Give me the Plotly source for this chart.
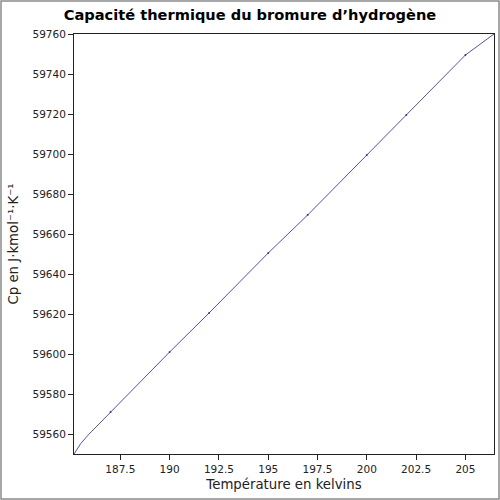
import plotly.graph_objects as go

temperature_k = [185.15, 185.5, 185.85, 187, 190, 192, 195, 197, 200, 202, 205, 206.45]
cp_values = [59550, 59555.3, 59559.3, 59571, 59601, 59620.5, 59650.5, 59669.5,
             59699.5, 59719.5, 59749.5, 59760]
marked_temperatures = [187, 190, 192, 195, 197, 200, 202, 205]
x_ticks = [187.5, 190, 192.5, 195, 197.5, 200, 202.5, 205]
x_tick_labels = ["187.5", "190", "192.5", "195", "197.5", "200", "202.5", "205"]
y_ticks = list(range(59560, 59761, 20))

FONT = "DejaVu Sans"
W, H = 500, 500
ML, MR, MT, MB = 74, 6, 34, 46
PW, PH = W - ML - MR, H - MT - MB

marker_sizes = [2 if t in marked_temperatures else 0 for t in temperature_k]

fig = go.Figure()
fig.add_trace(go.Scatter(
    x=temperature_k, y=cp_values, mode="lines+markers",
    line=dict(color="#2a2a8a", width=0.8),
    marker=dict(color="#00008b", size=marker_sizes, line=dict(width=0)),
    showlegend=False,
))

axis_common = dict(
    showgrid=False, zeroline=False, showline=True, linecolor="#222222", linewidth=1,
    mirror=True, ticks="outside", ticklen=5, tickcolor="#222222",
    tickfont=dict(family=FONT, size=10.5, color="#222222"),
    automargin=False,
)
fig.update_xaxes(range=[185.15, 206.45], tickvals=x_ticks, ticktext=x_tick_labels,
                 title=dict(text="Température en kelvins", font=dict(family=FONT, size=13.3, color="#222222"), standoff=6),
                 **axis_common)
fig.update_yaxes(range=[59550, 59760], tickvals=y_ticks, tickformat="d",
                 title=dict(text="Cp en J·kmol⁻¹·K⁻¹", font=dict(family=FONT, size=13.3, color="#222222"), standoff=10),
                 **axis_common)

fig.update_layout(
    width=W, height=H,
    margin=dict(l=ML, r=MR, t=MT, b=MB),
    paper_bgcolor="white", plot_bgcolor="white",
    title=dict(text="<b>Capacité thermique du bromure d’hydrogène</b>", x=0.5, xanchor="center",
               y=1 - 15 / H, yanchor="middle",
               font=dict(family=FONT, size=14.6, color="black")),
    shapes=[dict(type="rect", xref="paper", yref="paper",
                 x0=-(ML - 1) / PW, x1=1 + (MR - 1) / PW,
                 y0=-(MB - 1) / PH, y1=1 + (MT - 1) / PH,
                 line=dict(color="#8a8a8a", width=1.5), layer="below")],
)

fig.write_html("out.html", config={"displayModeBar": False},
               post_script="document.body.style.margin='0';")
